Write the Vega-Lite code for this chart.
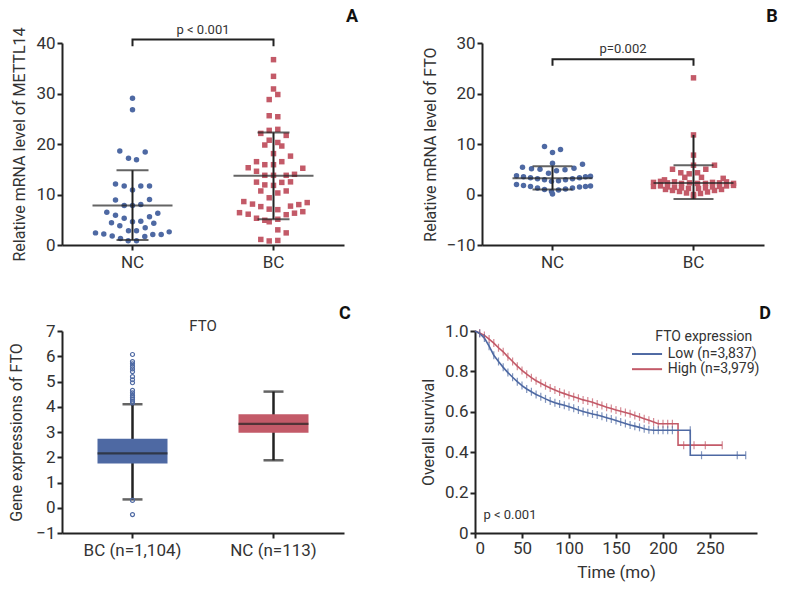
{
  "$schema": "https://vega.github.io/schema/vega-lite/v6.json",
  "background": "white",
  "padding": {"left": 8, "top": 8, "right": 5, "bottom": 5},
  "config": {
    "font": "Roboto",
    "view": {"stroke": null},
    "axis": {"domainColor": "#222", "domainWidth": 2, "tickColor": "#222", "tickWidth": 2, "tickSize": 5, "labelFontSize": 17, "labelColor": "#333", "titleFontSize": 16, "titleColor": "#333", "titleFontWeight": "normal", "grid": false, "labelPadding": 2, "titlePadding": 8, "labelOverlap": false}
  },
  "datasets": {
    "one": [{}],
    "scatA": [
      {"group": "NC", "value": 29.05, "jitter": 0}, {"group": "NC", "value": 26.8, "jitter": 0},
      {"group": "NC", "value": 18.6, "jitter": -12.7}, {"group": "NC", "value": 18.4, "jitter": 12.7},
      {"group": "NC", "value": 17.2, "jitter": -4}, {"group": "NC", "value": 16.9, "jitter": 4},
      {"group": "NC", "value": 12.1, "jitter": -17}, {"group": "NC", "value": 11.7, "jitter": -8.3},
      {"group": "NC", "value": 11.7, "jitter": 8.3}, {"group": "NC", "value": 11.7, "jitter": 17},
      {"group": "NC", "value": 10.9, "jitter": 0}, {"group": "NC", "value": 8.9, "jitter": -17},
      {"group": "NC", "value": 9.0, "jitter": 17}, {"group": "NC", "value": 7.8, "jitter": -8.3},
      {"group": "NC", "value": 7.8, "jitter": 0}, {"group": "NC", "value": 8.0, "jitter": 8.3},
      {"group": "NC", "value": 6.5, "jitter": -25.7}, {"group": "NC", "value": 6.3, "jitter": 25.3},
      {"group": "NC", "value": 5.9, "jitter": -17}, {"group": "NC", "value": 5.3, "jitter": -8.3},
      {"group": "NC", "value": 5.6, "jitter": 17}, {"group": "NC", "value": 4.4, "jitter": -21},
      {"group": "NC", "value": 4.6, "jitter": 0}, {"group": "NC", "value": 4.7, "jitter": 8.3},
      {"group": "NC", "value": 4.3, "jitter": 21.3}, {"group": "NC", "value": 3.8, "jitter": -12.7},
      {"group": "NC", "value": 3.4, "jitter": 12.7}, {"group": "NC", "value": 2.8, "jitter": -4},
      {"group": "NC", "value": 2.8, "jitter": 4}, {"group": "NC", "value": 2.4, "jitter": -37},
      {"group": "NC", "value": 2.2, "jitter": -28.7}, {"group": "NC", "value": 1.8, "jitter": -20.3},
      {"group": "NC", "value": 1.3, "jitter": -12}, {"group": "NC", "value": 0.85, "jitter": -4.3},
      {"group": "NC", "value": 0.85, "jitter": 4}, {"group": "NC", "value": 1.7, "jitter": 12.3},
      {"group": "NC", "value": 2.1, "jitter": 20.3}, {"group": "NC", "value": 2.1, "jitter": 28.7},
      {"group": "NC", "value": 2.6, "jitter": 36.7},
      {"group": "BC", "value": 36.7, "jitter": 0}, {"group": "BC", "value": 33.4, "jitter": 0},
      {"group": "BC", "value": 30.9, "jitter": 0}, {"group": "BC", "value": 29.8, "jitter": 4.3},
      {"group": "BC", "value": 28.8, "jitter": -4.3}, {"group": "BC", "value": 25.6, "jitter": -4.3},
      {"group": "BC", "value": 25.4, "jitter": 4.3}, {"group": "BC", "value": 22.7, "jitter": -4.3},
      {"group": "BC", "value": 22.9, "jitter": 4.3}, {"group": "BC", "value": 22.1, "jitter": -12.7},
      {"group": "BC", "value": 21.7, "jitter": 12.7}, {"group": "BC", "value": 20.75, "jitter": -4.3},
      {"group": "BC", "value": 20.3, "jitter": 4.3}, {"group": "BC", "value": 19.8, "jitter": -8.7},
      {"group": "BC", "value": 19.6, "jitter": 8.3}, {"group": "BC", "value": 18.1, "jitter": 0},
      {"group": "BC", "value": 17.6, "jitter": 17}, {"group": "BC", "value": 16.5, "jitter": -17},
      {"group": "BC", "value": 16.5, "jitter": 8.3}, {"group": "BC", "value": 15.9, "jitter": -8.7},
      {"group": "BC", "value": 15.9, "jitter": 0}, {"group": "BC", "value": 15.3, "jitter": -25.3},
      {"group": "BC", "value": 15.2, "jitter": 29.3}, {"group": "BC", "value": 14.6, "jitter": -17},
      {"group": "BC", "value": 13.8, "jitter": -8.7}, {"group": "BC", "value": 13.8, "jitter": 0},
      {"group": "BC", "value": 13.8, "jitter": 12.7}, {"group": "BC", "value": 14.0, "jitter": 21},
      {"group": "BC", "value": 12.45, "jitter": -17}, {"group": "BC", "value": 11.9, "jitter": -8.7},
      {"group": "BC", "value": 11.8, "jitter": 0}, {"group": "BC", "value": 12.4, "jitter": 8.3},
      {"group": "BC", "value": 12.5, "jitter": 17}, {"group": "BC", "value": 10.7, "jitter": -12.7},
      {"group": "BC", "value": 10.3, "jitter": 4.3}, {"group": "BC", "value": 10.7, "jitter": 12.7},
      {"group": "BC", "value": 9.35, "jitter": -4.3}, {"group": "BC", "value": 8.6, "jitter": -29.7},
      {"group": "BC", "value": 8.1, "jitter": -21}, {"group": "BC", "value": 7.6, "jitter": -12.7},
      {"group": "BC", "value": 7.1, "jitter": -4.3}, {"group": "BC", "value": 7.0, "jitter": 4.3},
      {"group": "BC", "value": 7.7, "jitter": 17}, {"group": "BC", "value": 8.0, "jitter": 25.3},
      {"group": "BC", "value": 8.4, "jitter": 33.7}, {"group": "BC", "value": 6.4, "jitter": -34},
      {"group": "BC", "value": 6.1, "jitter": -25.3}, {"group": "BC", "value": 5.3, "jitter": -17},
      {"group": "BC", "value": 4.9, "jitter": -8.7}, {"group": "BC", "value": 4.6, "jitter": -4.3},
      {"group": "BC", "value": 5.1, "jitter": 4.3}, {"group": "BC", "value": 6.0, "jitter": 12.7},
      {"group": "BC", "value": 6.3, "jitter": 21}, {"group": "BC", "value": 6.6, "jitter": 29.3},
      {"group": "BC", "value": 3.0, "jitter": 4.3}, {"group": "BC", "value": 2.4, "jitter": 12.7},
      {"group": "BC", "value": 1.1, "jitter": -12.7}, {"group": "BC", "value": 0.8, "jitter": -4.3},
      {"group": "BC", "value": 0.9, "jitter": 4.3}
    ],
    "sumA": [
      {"group": "NC", "mean": 7.8, "lo": 1.0, "hi": 14.8, "top": 14.8},
      {"group": "BC", "mean": 13.7, "lo": 5.1, "hi": 22.3, "top": 22.3}
    ],
    "scatB": [
      {"group": "NC", "value": 9.5, "jitter": -8}, {"group": "NC", "value": 8.9, "jitter": 8},
      {"group": "NC", "value": 8.3, "jitter": 0}, {"group": "NC", "value": 6.2, "jitter": 0},
      {"group": "NC", "value": 6.0, "jitter": 30}, {"group": "NC", "value": 5.4, "jitter": -30},
      {"group": "NC", "value": 5.1, "jitter": -21}, {"group": "NC", "value": 5.0, "jitter": -12.5},
      {"group": "NC", "value": 4.9, "jitter": 12.5}, {"group": "NC", "value": 5.2, "jitter": 21.5},
      {"group": "NC", "value": 4.7, "jitter": 4}, {"group": "NC", "value": 4.2, "jitter": -4},
      {"group": "NC", "value": 3.7, "jitter": -36}, {"group": "NC", "value": 3.5, "jitter": -29},
      {"group": "NC", "value": 3.3, "jitter": -22}, {"group": "NC", "value": 3.1, "jitter": -15},
      {"group": "NC", "value": 2.9, "jitter": -8}, {"group": "NC", "value": 2.6, "jitter": -1},
      {"group": "NC", "value": 2.7, "jitter": 6}, {"group": "NC", "value": 2.9, "jitter": 13},
      {"group": "NC", "value": 3.1, "jitter": 20}, {"group": "NC", "value": 3.3, "jitter": 27},
      {"group": "NC", "value": 3.5, "jitter": 33}, {"group": "NC", "value": 3.6, "jitter": 38},
      {"group": "NC", "value": 2.0, "jitter": -36}, {"group": "NC", "value": 1.8, "jitter": -29},
      {"group": "NC", "value": 1.6, "jitter": -22}, {"group": "NC", "value": 1.3, "jitter": -15},
      {"group": "NC", "value": 1.0, "jitter": -8}, {"group": "NC", "value": 0.6, "jitter": -1},
      {"group": "NC", "value": 0.9, "jitter": 6}, {"group": "NC", "value": 1.1, "jitter": 13},
      {"group": "NC", "value": 1.3, "jitter": 20}, {"group": "NC", "value": 1.5, "jitter": 27},
      {"group": "NC", "value": 1.6, "jitter": 33}, {"group": "NC", "value": 1.7, "jitter": 38},
      {"group": "NC", "value": 0.1, "jitter": 0},
      {"group": "BC", "value": 23.1, "jitter": 0}, {"group": "BC", "value": 11.8, "jitter": 0},
      {"group": "BC", "value": 7.8, "jitter": 0}, {"group": "BC", "value": 5.8, "jitter": 0},
      {"group": "BC", "value": 5.8, "jitter": 21}, {"group": "BC", "value": 5.0, "jitter": -21},
      {"group": "BC", "value": 5.0, "jitter": 12.3}, {"group": "BC", "value": 4.3, "jitter": -12.7},
      {"group": "BC", "value": 4.1, "jitter": -4.3}, {"group": "BC", "value": 4.3, "jitter": 4},
      {"group": "BC", "value": 3.4, "jitter": -8.7}, {"group": "BC", "value": 3.4, "jitter": 8},
      {"group": "BC", "value": 2.9, "jitter": -29}, {"group": "BC", "value": 3.2, "jitter": 29.7},
      {"group": "BC", "value": 2.4, "jitter": -40}, {"group": "BC", "value": 2.6, "jitter": -33},
      {"group": "BC", "value": 2.3, "jitter": -26}, {"group": "BC", "value": 2.5, "jitter": -19},
      {"group": "BC", "value": 2.2, "jitter": -12}, {"group": "BC", "value": 2.3, "jitter": -4},
      {"group": "BC", "value": 2.2, "jitter": 4}, {"group": "BC", "value": 2.2, "jitter": 12},
      {"group": "BC", "value": 2.4, "jitter": 19}, {"group": "BC", "value": 2.3, "jitter": 26},
      {"group": "BC", "value": 2.5, "jitter": 33}, {"group": "BC", "value": 2.2, "jitter": 40},
      {"group": "BC", "value": 1.6, "jitter": -40}, {"group": "BC", "value": 1.7, "jitter": -33},
      {"group": "BC", "value": 1.5, "jitter": -26}, {"group": "BC", "value": 1.4, "jitter": -19},
      {"group": "BC", "value": 1.3, "jitter": -12}, {"group": "BC", "value": 1.2, "jitter": -5},
      {"group": "BC", "value": 1.2, "jitter": 5}, {"group": "BC", "value": 1.3, "jitter": 12},
      {"group": "BC", "value": 1.5, "jitter": 19}, {"group": "BC", "value": 1.6, "jitter": 26},
      {"group": "BC", "value": 1.7, "jitter": 33}, {"group": "BC", "value": 1.8, "jitter": 40},
      {"group": "BC", "value": 1.0, "jitter": -28}, {"group": "BC", "value": 0.8, "jitter": -21},
      {"group": "BC", "value": 0.6, "jitter": -14}, {"group": "BC", "value": 0.3, "jitter": -7},
      {"group": "BC", "value": 0.0, "jitter": 0}, {"group": "BC", "value": 0.2, "jitter": 7},
      {"group": "BC", "value": 0.5, "jitter": 14}, {"group": "BC", "value": 0.8, "jitter": 21},
      {"group": "BC", "value": 1.0, "jitter": 28}, {"group": "BC", "value": -0.3, "jitter": 0}
    ],
    "sumB": [
      {"group": "NC", "mean": 3.2, "lo": 1.0, "hi": 5.6, "top": 5.6},
      {"group": "BC", "mean": 2.3, "lo": -0.9, "hi": 5.8, "top": 11.8}
    ],
    "boxC": [
      {"group": "BC (n=1,104)", "lo": 0.33, "q1": 1.75, "med": 2.15, "q3": 2.73, "hi": 4.1},
      {"group": "NC (n=113)", "lo": 1.88, "q1": 2.97, "med": 3.32, "q3": 3.7, "hi": 4.6}
    ],
    "outC": [
      {"group": "BC (n=1,104)", "value": 6.07}, {"group": "BC (n=1,104)", "value": 5.79},
      {"group": "BC (n=1,104)", "value": 5.7}, {"group": "BC (n=1,104)", "value": 5.6},
      {"group": "BC (n=1,104)", "value": 5.5}, {"group": "BC (n=1,104)", "value": 5.39},
      {"group": "BC (n=1,104)", "value": 5.19}, {"group": "BC (n=1,104)", "value": 5.07},
      {"group": "BC (n=1,104)", "value": 4.95}, {"group": "BC (n=1,104)", "value": 4.65},
      {"group": "BC (n=1,104)", "value": 4.55}, {"group": "BC (n=1,104)", "value": 4.45},
      {"group": "BC (n=1,104)", "value": 4.37}, {"group": "BC (n=1,104)", "value": 4.3},
      {"group": "BC (n=1,104)", "value": 4.22}, {"group": "BC (n=1,104)", "value": 4.15},
      {"group": "BC (n=1,104)", "value": 0.29}, {"group": "BC (n=1,104)", "value": -0.27}
    ],
    "km": [
      {"grp": "High (n=3,979)", "t": 0, "s": 1.0, "c": 0}, {"grp": "High (n=3,979)", "t": 5, "s": 0.99, "c": 1},
      {"grp": "High (n=3,979)", "t": 10, "s": 0.978, "c": 1}, {"grp": "High (n=3,979)", "t": 15, "s": 0.96, "c": 1},
      {"grp": "High (n=3,979)", "t": 20, "s": 0.94, "c": 1}, {"grp": "High (n=3,979)", "t": 25, "s": 0.917, "c": 1},
      {"grp": "High (n=3,979)", "t": 30, "s": 0.897, "c": 1}, {"grp": "High (n=3,979)", "t": 35, "s": 0.872, "c": 1},
      {"grp": "High (n=3,979)", "t": 40, "s": 0.849, "c": 1}, {"grp": "High (n=3,979)", "t": 45, "s": 0.826, "c": 1},
      {"grp": "High (n=3,979)", "t": 50, "s": 0.805, "c": 1}, {"grp": "High (n=3,979)", "t": 55, "s": 0.786, "c": 1},
      {"grp": "High (n=3,979)", "t": 60, "s": 0.769, "c": 1}, {"grp": "High (n=3,979)", "t": 65, "s": 0.754, "c": 1},
      {"grp": "High (n=3,979)", "t": 70, "s": 0.741, "c": 1}, {"grp": "High (n=3,979)", "t": 75, "s": 0.729, "c": 1},
      {"grp": "High (n=3,979)", "t": 80, "s": 0.718, "c": 1}, {"grp": "High (n=3,979)", "t": 85, "s": 0.708, "c": 1},
      {"grp": "High (n=3,979)", "t": 90, "s": 0.698, "c": 1}, {"grp": "High (n=3,979)", "t": 95, "s": 0.69, "c": 1},
      {"grp": "High (n=3,979)", "t": 100, "s": 0.682, "c": 1}, {"grp": "High (n=3,979)", "t": 105, "s": 0.675, "c": 1},
      {"grp": "High (n=3,979)", "t": 110, "s": 0.667, "c": 1}, {"grp": "High (n=3,979)", "t": 115, "s": 0.659, "c": 1},
      {"grp": "High (n=3,979)", "t": 120, "s": 0.653, "c": 1}, {"grp": "High (n=3,979)", "t": 125, "s": 0.647, "c": 1},
      {"grp": "High (n=3,979)", "t": 130, "s": 0.639, "c": 1}, {"grp": "High (n=3,979)", "t": 135, "s": 0.631, "c": 1},
      {"grp": "High (n=3,979)", "t": 140, "s": 0.623, "c": 1}, {"grp": "High (n=3,979)", "t": 145, "s": 0.616, "c": 1},
      {"grp": "High (n=3,979)", "t": 150, "s": 0.609, "c": 1}, {"grp": "High (n=3,979)", "t": 155, "s": 0.603, "c": 1},
      {"grp": "High (n=3,979)", "t": 160, "s": 0.597, "c": 1}, {"grp": "High (n=3,979)", "t": 165, "s": 0.59, "c": 1},
      {"grp": "High (n=3,979)", "t": 170, "s": 0.582, "c": 1}, {"grp": "High (n=3,979)", "t": 175, "s": 0.574, "c": 1},
      {"grp": "High (n=3,979)", "t": 180, "s": 0.566, "c": 1}, {"grp": "High (n=3,979)", "t": 185, "s": 0.558, "c": 1},
      {"grp": "High (n=3,979)", "t": 190, "s": 0.55, "c": 1}, {"grp": "High (n=3,979)", "t": 195, "s": 0.541, "c": 1},
      {"grp": "High (n=3,979)", "t": 200, "s": 0.541, "c": 1}, {"grp": "High (n=3,979)", "t": 205, "s": 0.541, "c": 1},
      {"grp": "High (n=3,979)", "t": 210, "s": 0.541, "c": 1}, {"grp": "High (n=3,979)", "t": 216, "s": 0.541, "c": 0},
      {"grp": "High (n=3,979)", "t": 216, "s": 0.435, "c": 0}, {"grp": "High (n=3,979)", "t": 222, "s": 0.435, "c": 1},
      {"grp": "High (n=3,979)", "t": 233, "s": 0.435, "c": 1}, {"grp": "High (n=3,979)", "t": 245, "s": 0.435, "c": 1},
      {"grp": "High (n=3,979)", "t": 263, "s": 0.435, "c": 1},
      {"grp": "Low (n=3,837)", "t": 0, "s": 1.0, "c": 0}, {"grp": "Low (n=3,837)", "t": 5, "s": 0.988, "c": 1},
      {"grp": "Low (n=3,837)", "t": 10, "s": 0.965, "c": 1}, {"grp": "Low (n=3,837)", "t": 15, "s": 0.925, "c": 1},
      {"grp": "Low (n=3,837)", "t": 20, "s": 0.88, "c": 1}, {"grp": "Low (n=3,837)", "t": 25, "s": 0.849, "c": 1},
      {"grp": "Low (n=3,837)", "t": 30, "s": 0.82, "c": 1}, {"grp": "Low (n=3,837)", "t": 35, "s": 0.794, "c": 1},
      {"grp": "Low (n=3,837)", "t": 40, "s": 0.771, "c": 1}, {"grp": "Low (n=3,837)", "t": 45, "s": 0.749, "c": 1},
      {"grp": "Low (n=3,837)", "t": 50, "s": 0.73, "c": 1}, {"grp": "Low (n=3,837)", "t": 55, "s": 0.713, "c": 1},
      {"grp": "Low (n=3,837)", "t": 60, "s": 0.699, "c": 1}, {"grp": "Low (n=3,837)", "t": 65, "s": 0.686, "c": 1},
      {"grp": "Low (n=3,837)", "t": 70, "s": 0.675, "c": 1}, {"grp": "Low (n=3,837)", "t": 75, "s": 0.664, "c": 1},
      {"grp": "Low (n=3,837)", "t": 80, "s": 0.654, "c": 1}, {"grp": "Low (n=3,837)", "t": 85, "s": 0.645, "c": 1},
      {"grp": "Low (n=3,837)", "t": 90, "s": 0.638, "c": 1}, {"grp": "Low (n=3,837)", "t": 95, "s": 0.632, "c": 1},
      {"grp": "Low (n=3,837)", "t": 100, "s": 0.625, "c": 1}, {"grp": "Low (n=3,837)", "t": 105, "s": 0.617, "c": 1},
      {"grp": "Low (n=3,837)", "t": 110, "s": 0.609, "c": 1}, {"grp": "Low (n=3,837)", "t": 115, "s": 0.601, "c": 1},
      {"grp": "Low (n=3,837)", "t": 120, "s": 0.595, "c": 1}, {"grp": "Low (n=3,837)", "t": 125, "s": 0.589, "c": 1},
      {"grp": "Low (n=3,837)", "t": 130, "s": 0.584, "c": 1}, {"grp": "Low (n=3,837)", "t": 135, "s": 0.578, "c": 1},
      {"grp": "Low (n=3,837)", "t": 140, "s": 0.571, "c": 1}, {"grp": "Low (n=3,837)", "t": 145, "s": 0.564, "c": 1},
      {"grp": "Low (n=3,837)", "t": 150, "s": 0.557, "c": 1}, {"grp": "Low (n=3,837)", "t": 155, "s": 0.549, "c": 1},
      {"grp": "Low (n=3,837)", "t": 160, "s": 0.542, "c": 1}, {"grp": "Low (n=3,837)", "t": 165, "s": 0.535, "c": 1},
      {"grp": "Low (n=3,837)", "t": 170, "s": 0.529, "c": 1}, {"grp": "Low (n=3,837)", "t": 175, "s": 0.523, "c": 1},
      {"grp": "Low (n=3,837)", "t": 180, "s": 0.516, "c": 1}, {"grp": "Low (n=3,837)", "t": 185, "s": 0.511, "c": 1},
      {"grp": "Low (n=3,837)", "t": 190, "s": 0.509, "c": 1}, {"grp": "Low (n=3,837)", "t": 195, "s": 0.509, "c": 1},
      {"grp": "Low (n=3,837)", "t": 200, "s": 0.509, "c": 1}, {"grp": "Low (n=3,837)", "t": 205, "s": 0.509, "c": 1},
      {"grp": "Low (n=3,837)", "t": 210, "s": 0.509, "c": 1}, {"grp": "Low (n=3,837)", "t": 229, "s": 0.509, "c": 1},
      {"grp": "Low (n=3,837)", "t": 229, "s": 0.385, "c": 0}, {"grp": "Low (n=3,837)", "t": 241, "s": 0.385, "c": 1},
      {"grp": "Low (n=3,837)", "t": 279, "s": 0.385, "c": 1}, {"grp": "Low (n=3,837)", "t": 288, "s": 0.385, "c": 1}
    ]
  },
  "spacing": 35,
  "vconcat": [
    {
      "spacing": 63,
      "hconcat": [
        {
          "width": 282, "height": 202,
          "layer": [
            {
              "data": {"name": "scatA"},
              "mark": {"type": "point", "filled": true, "opacity": 1, "size": 30},
              "encoding": {
                "x": {"field": "group", "type": "nominal", "sort": null, "scale": {"domain": ["NC", "BC"], "paddingInner": 0, "paddingOuter": 0}, "axis": {"title": null, "labelAngle": 0, "labelPadding": 4}},
                "xOffset": {"field": "jitter", "type": "quantitative", "scale": {"domain": [-70.5, 70.5], "range": [0, 141]}},
                "y": {"field": "value", "type": "quantitative", "scale": {"domain": [0, 40], "nice": false}, "axis": {"title": "Relative mRNA level of METTL14", "values": [0, 10, 20, 30, 40]}},
                "shape": {"field": "group", "type": "nominal", "scale": {"domain": ["NC", "BC"], "range": ["circle", "square"]}, "legend": null},
                "color": {"field": "group", "type": "nominal", "scale": {"domain": ["NC", "BC"], "range": ["#4e69a3", "#c35a68"]}, "legend": null}
              }
            },
            {
              "data": {"name": "sumA"},
              "mark": {"type": "rule", "color": "#222", "strokeWidth": 2},
              "encoding": {"x": {"field": "group", "type": "nominal"}, "xOffset": {"datum": 0}, "y": {"field": "lo", "type": "quantitative"}, "y2": {"field": "top"}}
            },
            {
              "data": {"name": "sumA"},
              "mark": {"type": "tick", "orient": "horizontal", "color": "#222", "thickness": 2, "size": 80},
              "encoding": {"x": {"field": "group", "type": "nominal"}, "xOffset": {"datum": 0}, "y": {"field": "mean", "type": "quantitative"}}
            },
            {
              "data": {"name": "sumA"},
              "mark": {"type": "tick", "orient": "horizontal", "color": "#222", "thickness": 2, "size": 32},
              "encoding": {"x": {"field": "group", "type": "nominal"}, "xOffset": {"datum": 0}, "y": {"field": "lo", "type": "quantitative"}}
            },
            {
              "data": {"name": "sumA"},
              "mark": {"type": "tick", "orient": "horizontal", "color": "#222", "thickness": 2, "size": 32},
              "encoding": {"x": {"field": "group", "type": "nominal"}, "xOffset": {"datum": 0}, "y": {"field": "hi", "type": "quantitative"}}
            },
            {
              "data": {"values": [{"g": "NC", "v": 39.35, "o": 1}, {"g": "NC", "v": 40.7, "o": 2}, {"g": "BC", "v": 40.7, "o": 3}, {"g": "BC", "v": 39.35, "o": 4}]},
              "mark": {"type": "line", "color": "#222", "strokeWidth": 2},
              "encoding": {"x": {"field": "g", "type": "nominal"}, "xOffset": {"datum": 0}, "y": {"field": "v", "type": "quantitative"}, "order": {"field": "o"}}
            },
            {
              "data": {"name": "one"},
              "mark": {"type": "text", "fontSize": 13, "color": "#333", "baseline": "middle"},
              "encoding": {"x": {"datum": "NC"}, "xOffset": {"datum": 70.5}, "y": {"datum": 42.6}, "text": {"value": "p < 0.001"}}
            },
            {
              "data": {"name": "one"},
              "mark": {"type": "text", "fontSize": 18, "fontWeight": "bold", "color": "#111", "baseline": "middle"},
              "encoding": {"x": {"datum": "BC"}, "xOffset": {"datum": 78.5}, "y": {"datum": 45.1}, "text": {"value": "A"}}
            }
          ]
        },
        {
          "width": 282, "height": 202,
          "layer": [
            {
              "data": {"name": "scatB"},
              "mark": {"type": "point", "filled": true, "opacity": 1, "size": 30},
              "encoding": {
                "x": {"field": "group", "type": "nominal", "sort": null, "scale": {"domain": ["NC", "BC"], "paddingInner": 0, "paddingOuter": 0}, "axis": {"title": null, "labelAngle": 0, "labelPadding": 4}},
                "xOffset": {"field": "jitter", "type": "quantitative", "scale": {"domain": [-70.5, 70.5], "range": [0, 141]}},
                "y": {"field": "value", "type": "quantitative", "scale": {"domain": [-10, 30], "nice": false}, "axis": {"title": "Relative mRNA level of FTO", "values": [-10, 0, 10, 20, 30]}},
                "shape": {"field": "group", "type": "nominal", "scale": {"domain": ["NC", "BC"], "range": ["circle", "square"]}, "legend": null},
                "color": {"field": "group", "type": "nominal", "scale": {"domain": ["NC", "BC"], "range": ["#4e69a3", "#c35a68"]}, "legend": null}
              }
            },
            {
              "data": {"name": "sumB"},
              "mark": {"type": "rule", "color": "#222", "strokeWidth": 2},
              "encoding": {"x": {"field": "group", "type": "nominal"}, "xOffset": {"datum": 0}, "y": {"field": "lo", "type": "quantitative"}, "y2": {"field": "top"}}
            },
            {
              "data": {"name": "sumB"},
              "mark": {"type": "tick", "orient": "horizontal", "color": "#222", "thickness": 2, "size": 80},
              "encoding": {"x": {"field": "group", "type": "nominal"}, "xOffset": {"datum": 0}, "y": {"field": "mean", "type": "quantitative"}}
            },
            {
              "data": {"name": "sumB"},
              "mark": {"type": "tick", "orient": "horizontal", "color": "#222", "thickness": 2, "size": 40},
              "encoding": {"x": {"field": "group", "type": "nominal"}, "xOffset": {"datum": 0}, "y": {"field": "lo", "type": "quantitative"}}
            },
            {
              "data": {"name": "sumB"},
              "mark": {"type": "tick", "orient": "horizontal", "color": "#222", "thickness": 2, "size": 40},
              "encoding": {"x": {"field": "group", "type": "nominal"}, "xOffset": {"datum": 0}, "y": {"field": "hi", "type": "quantitative"}}
            },
            {
              "data": {"values": [{"g": "NC", "v": 25.5, "o": 1}, {"g": "NC", "v": 26.8, "o": 2}, {"g": "BC", "v": 26.8, "o": 3}, {"g": "BC", "v": 25.5, "o": 4}]},
              "mark": {"type": "line", "color": "#222", "strokeWidth": 2},
              "encoding": {"x": {"field": "g", "type": "nominal"}, "xOffset": {"datum": 0}, "y": {"field": "v", "type": "quantitative"}, "order": {"field": "o"}}
            },
            {
              "data": {"name": "one"},
              "mark": {"type": "text", "fontSize": 13, "color": "#333", "baseline": "middle"},
              "encoding": {"x": {"datum": "NC"}, "xOffset": {"datum": 70.5}, "y": {"datum": 28.8}, "text": {"value": "p=0.002"}}
            },
            {
              "data": {"name": "one"},
              "mark": {"type": "text", "fontSize": 18, "fontWeight": "bold", "color": "#111", "baseline": "middle"},
              "encoding": {"x": {"datum": "BC"}, "xOffset": {"datum": 78.5}, "y": {"datum": 35.1}, "text": {"value": "B"}}
            }
          ]
        }
      ]
    },
    {
      "spacing": 69,
      "hconcat": [
        {
          "width": 282, "height": 202,
          "layer": [
            {
              "encoding": {
                "x": {"field": "group", "type": "nominal", "sort": null, "scale": {"domain": ["BC (n=1,104)", "NC (n=113)"], "paddingInner": 0, "paddingOuter": 0}, "axis": {"title": null, "labelAngle": 0, "labelPadding": 4}},
                "y": {"field": "lo", "type": "quantitative", "scale": {"domain": [-1, 7], "nice": false}, "axis": {"title": "Gene expressions of FTO", "values": [-1, 0, 1, 2, 3, 4, 5, 6, 7], "labelOverlap": false, "labelSeparation": 0, "titlePadding": 11}}
              },
              "layer": [
                {
                  "data": {"name": "boxC"},
                  "mark": {"type": "rule", "color": "#222", "strokeWidth": 2.5},
                  "encoding": {"y2": {"field": "hi"}}
                },
                {
                  "data": {"name": "boxC"},
                  "mark": {"type": "tick", "orient": "horizontal", "color": "#222", "thickness": 2.5, "size": 20}
                },
                {
                  "data": {"name": "boxC"},
                  "mark": {"type": "tick", "orient": "horizontal", "color": "#222", "thickness": 2.5, "size": 20},
                  "encoding": {"y": {"field": "hi", "type": "quantitative"}}
                },
                {
                  "data": {"name": "boxC"},
                  "mark": {"type": "bar", "size": 70},
                  "encoding": {
                    "y": {"field": "q1", "type": "quantitative"}, "y2": {"field": "q3"},
                    "color": {"field": "group", "type": "nominal", "scale": {"domain": ["BC (n=1,104)", "NC (n=113)"], "range": ["#536b9b", "#bd5d69"]}, "legend": null}
                  }
                },
                {
                  "data": {"name": "boxC"},
                  "mark": {"type": "tick", "orient": "horizontal", "color": "#222", "thickness": 2.2, "size": 70},
                  "encoding": {"y": {"field": "med", "type": "quantitative"}}
                },
                {
                  "data": {"name": "outC"},
                  "mark": {"type": "point", "filled": false, "color": "#4e69a3", "size": 16, "strokeWidth": 1.2, "opacity": 1},
                  "encoding": {"y": {"field": "value", "type": "quantitative"}}
                }
              ]
            },
            {
              "data": {"name": "one"},
              "mark": {"type": "text", "fontSize": 15, "color": "#333", "baseline": "middle"},
              "encoding": {
                "x": {"datum": "BC (n=1,104)"},
                "xOffset": {"datum": 70.5, "scale": {"domain": [-70.5, 70.5], "range": [0, 141]}},
                "y": {"datum": 7.2, "axis": {"title": "Gene expressions of FTO", "values": [-1, 0, 1, 2, 3, 4, 5, 6, 7], "labelOverlap": false, "labelSeparation": 0, "titlePadding": 11}},
                "text": {"value": "FTO"}
              }
            },
            {
              "data": {"name": "one"},
              "mark": {"type": "text", "fontSize": 18, "fontWeight": "bold", "color": "#111", "baseline": "middle"},
              "encoding": {
                "x": {"datum": "NC (n=113)"},
                "xOffset": {"datum": 71.5},
                "y": {"datum": 7.67, "axis": {"title": "Gene expressions of FTO", "values": [-1, 0, 1, 2, 3, 4, 5, 6, 7], "labelOverlap": false, "labelSeparation": 0, "titlePadding": 11}},
                "text": {"value": "C"}
              }
            }
          ]
        },
        {
          "width": 282, "height": 202,
          "layer": [
            {
              "data": {"name": "km"},
              "mark": {"type": "line", "strokeWidth": 1.6},
              "encoding": {
                "x": {"field": "t", "type": "quantitative", "scale": {"domain": [0, 300], "nice": false}, "axis": {"title": "Time (mo)", "titleFontSize": 17, "values": [0, 50, 100, 150, 200, 250]}},
                "y": {"field": "s", "type": "quantitative", "scale": {"domain": [0, 1], "nice": false}, "axis": {"title": "Overall survival", "values": [0, 0.2, 0.4, 0.6, 0.8, 1.0], "labelExpr": "datum.value == 0 ? '0' : format(datum.value, '.1f')"}},
                "color": {"field": "grp", "type": "nominal", "scale": {"domain": ["Low (n=3,837)", "High (n=3,979)"], "range": ["#4b64a6", "#c8505f"]}, "legend": null},
                "order": [{"field": "s", "sort": "descending"}, {"field": "t"}]
              }
            },
            {
              "data": {"name": "km"},
              "transform": [{"filter": "datum.c == 1"}],
              "mark": {"type": "tick", "orient": "vertical", "size": 8, "thickness": 1.2},
              "encoding": {"x": {"field": "t", "type": "quantitative"}, "y": {"field": "s", "type": "quantitative"}, "color": {"field": "grp", "type": "nominal", "legend": null}}
            },
            {
              "data": {"name": "one"},
              "mark": {"type": "text", "fontSize": 14, "color": "#333", "align": "right", "baseline": "middle"},
              "encoding": {"x": {"datum": 295}, "y": {"datum": 0.968}, "text": {"value": "FTO expression"}}
            },
            {
              "data": {"name": "one"},
              "mark": {"type": "rule", "strokeWidth": 2},
              "encoding": {"x": {"datum": 167}, "x2": {"datum": 199}, "y": {"datum": 0.886}, "color": {"datum": "Low (n=3,837)"}}
            },
            {
              "data": {"name": "one"},
              "mark": {"type": "rule", "strokeWidth": 2},
              "encoding": {"x": {"datum": 167}, "x2": {"datum": 199}, "y": {"datum": 0.811}, "color": {"datum": "High (n=3,979)"}}
            },
            {
              "data": {"name": "one"},
              "mark": {"type": "text", "fontSize": 14, "color": "#333", "align": "left", "baseline": "middle"},
              "encoding": {"x": {"datum": 205}, "y": {"datum": 0.886}, "text": {"value": "Low (n=3,837)"}}
            },
            {
              "data": {"name": "one"},
              "mark": {"type": "text", "fontSize": 14, "color": "#333", "align": "left", "baseline": "middle"},
              "encoding": {"x": {"datum": 205}, "y": {"datum": 0.811}, "text": {"value": "High (n=3,979)"}}
            },
            {
              "data": {"name": "one"},
              "mark": {"type": "text", "fontSize": 13, "color": "#333", "align": "left", "baseline": "middle"},
              "encoding": {"x": {"datum": 9}, "y": {"datum": 0.09}, "text": {"value": "p < 0.001"}}
            },
            {
              "data": {"name": "one"},
              "mark": {"type": "text", "fontSize": 18, "fontWeight": "bold", "color": "#111", "baseline": "middle"},
              "encoding": {"x": {"datum": 308.5}, "y": {"datum": 1.083}, "text": {"value": "D"}}
            }
          ]
        }
      ]
    }
  ]
}
